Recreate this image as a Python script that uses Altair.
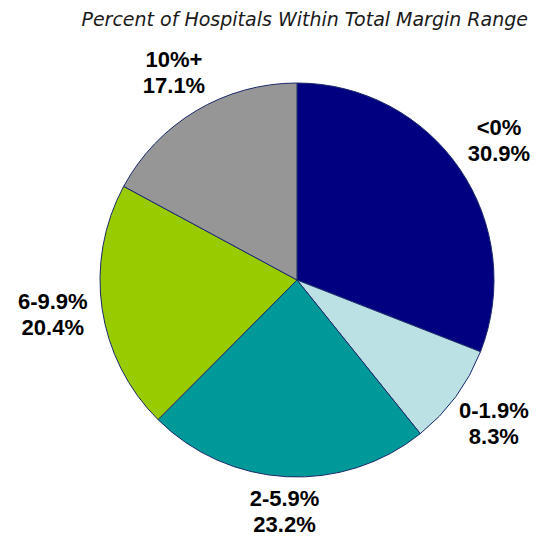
import altair as alt
import pandas as pd

categories = ["<0%", "0-1.9%", "2-5.9%", "6-9.9%", "10%+"]
values = [30.9, 8.3, 23.2, 20.4, 17.1]
colors = ["#000080", "#BCE1E5", "#009999", "#99CC00", "#969696"]

df = pd.DataFrame({
    "category": categories,
    "value": values,
    "order": list(range(len(categories))),
})
df["label"] = [f"{c}\n{v:.1f}%" for c, v in zip(categories, values)]

CX, CY, R = 289, 246, 197

base = alt.Chart(df)

pie = base.mark_arc(stroke="#1B2A6B", strokeWidth=1, radius=R).encode(
    theta=alt.Theta("value:Q", stack=True),
    color=alt.Color("category:N", scale=alt.Scale(domain=categories, range=colors), legend=None),
    order=alt.Order("order:Q"),
    x=alt.value(CX),
    y=alt.value(CY),
)

labels = base.transform_window(
    cum="sum(value)", sort=[alt.SortField("order")], frame=[None, 0]
).transform_joinaggregate(
    total="sum(value)"
).transform_calculate(
    mid="(datum.cum - datum.value/2) / datum.total * 2 * PI",
).transform_calculate(
    r="233 + 14*abs(sin(datum.mid))",
).transform_calculate(
    lx=f"{CX} + datum.r*sin(datum.mid)",
    ly=f"{CY} - datum.r*cos(datum.mid) - 14",
).mark_text(
    font="Liberation Sans", fontWeight="bold", fontSize=22, lineBreak="\n",
    lineHeight=26, align="center", baseline="middle", color="#000000",
).encode(
    x=alt.X("lx:Q", scale=None),
    y=alt.Y("ly:Q", scale=None),
    text="label:N",
)

chart = alt.layer(pie, labels).properties(
    width=524, height=500,
    padding={"top": 3, "left": 0, "right": 0, "bottom": 0},
    title=alt.TitleParams(
        "Percent of Hospitals Within Total Margin Range",
        anchor="end", font="DejaVu Sans", fontSize=19, fontStyle="italic",
        fontWeight="normal", color="#1a1a1a", offset=4, dx=-4,
    ),
).configure_view(stroke=None)

chart.save("out.html", embed_options={"renderer": "svg", "actions": False})
